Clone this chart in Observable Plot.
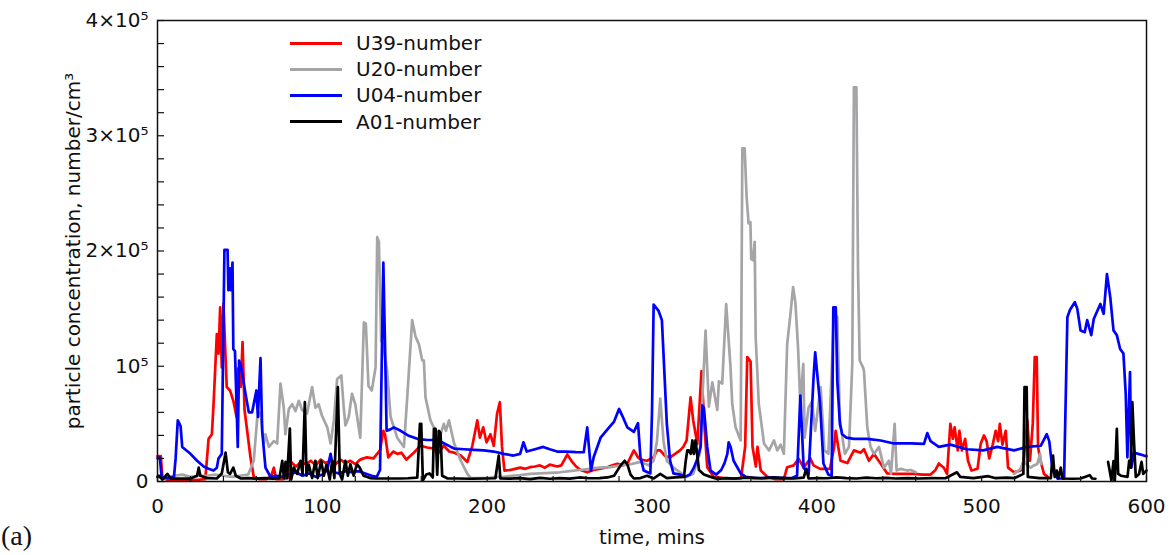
<!DOCTYPE html>
<html><head><meta charset="utf-8">
<script src="https://cdn.jsdelivr.net/npm/d3@7"></script>
<script src="https://cdn.jsdelivr.net/npm/@observablehq/plot@0.6"></script>
<style>
body{margin:0;background:#fff;}
#wrap{position:relative;width:1173px;height:555px;font-family:"DejaVu Sans",sans-serif;}
.legend{position:absolute;left:290px;top:30px;}
.row{display:flex;align-items:center;height:26.2px;font-size:20px;color:#111;}
.sw{width:52px;height:3px;margin-right:14px;}
#tag{position:absolute;left:1px;top:520px;font-family:"Liberation Serif",serif;font-size:28px;color:#111;}
</style></head><body><div id="wrap"></div>
<script>
// time (mins), concentration (thousand number/cm^3)
const seriesNames = ["U39-number", "U20-number", "U04-number", "A01-number"];
const seriesColors = ["#ff0000", "#a5a5a8", "#0000ff", "#000000"];

const u39 = [[0,22],[2,22],[3,3],[6,1.5],[10,1],[15,1.5],[20,1],[25,1.5],[29,2],[31,37],[33,41],[34,67],[36,128],[37,111],[38,151],[39,99],[40,154],[42,82],[44,79],[46,70],[48,56],[48.7,98],[50.5,82],[51.6,121],[52.8,62],[54.4,44],[56.4,21],[58.4,4],[62,2],[66,2],[69,5],[70.6,12],[72,2],[76,2],[79,3],[81,17],[84,13],[87,17],[90,15],[93,18],[96,14],[99,19],[102,16],[105,18],[108,15],[111,19],[114,16],[117,18],[120,15],[123,19],[127,21],[131,20],[135,27],[137,44],[138,41],[140,21],[143,26],[145.5,24],[148,25],[151,19],[155.5,25],[159.6,31],[163.6,29.5],[167.6,28.6],[170,24],[173.7,31],[177,26],[180,25],[184,22.5],[188,17],[191,31],[194,53],[195.6,38],[197.6,47],[199.6,34],[202,41],[204,31],[206,58.7],[207.7,68.8],[209,30],[210.5,9.5],[214,10],[217,11],[220,12],[223,11],[226,12.4],[229,13],[232,14],[235,12],[238,14.6],[242.5,13],[245,14],[248.6,23.4],[251.6,17],[254,13],[256.7,10],[260.7,8],[264.6,10],[268,11],[273,12.4],[276,14],[279,15.3],[282,14],[285,15.3],[289,27],[291.5,21],[293,19],[297,18],[301,21],[303,27],[305,27],[308,22],[311,21],[314,24],[317,27],[319,30],[321,35.6],[323.4,73],[325,53],[327.5,32.7],[330,95.7],[332,44],[333.5,12.4],[337.5,4],[344,3],[350,2.5],[354,2.6],[356.5,30],[357.8,108],[359.8,104],[361,30],[363,13],[364,30],[366,9.5],[370,4],[375,2],[380,2],[382,12.4],[386,14],[389,19.7],[392,12],[396,20],[398,14],[402,11],[408,11],[410.5,30],[411.4,44],[413,30],[414.4,18],[418.5,16],[422.5,27],[426.6,25],[428.6,28],[431.6,18],[434.7,24],[436.5,20],[438.7,15.6],[442.7,7],[447,6.6],[451,6.6],[455,6.6],[459,6.6],[464,6],[469,6],[472,10],[474,15.6],[477,12],[479,6.6],[481,50],[482.5,37],[483.6,47],[485.5,27],[486.5,44],[488,27],[490,37],[491.7,18],[493.8,9.5],[497.5,11],[499.4,32.7],[501.4,40],[503,35],[504.6,20],[506.7,32],[508.5,44],[510,35],[511,50],[512.6,32],[514.6,44],[516,12],[519.6,8],[523.6,9.5],[525.6,18],[527.7,53],[529.3,18],[531,50],[532.2,108],[533.4,108],[534.2,30],[535.7,18],[537.8,6.6],[540,4]];

const u20 = [[0,4],[5,3],[10,5],[15,6],[20,4],[25,5],[30,5],[35,6],[40,5],[45,4],[50,5],[55,6],[58.4,18],[60.5,55],[62.5,60],[64.5,33],[65.5,41],[67.6,30],[70.6,35],[72.6,33],[74.6,85],[76.6,64],[77.6,41],[79.7,63],[81.7,67],[83.7,61],[85.7,70],[87.7,62],[90.7,59],[93.8,82],[95.8,64],[97.8,67],[99.8,57],[103,47],[105,33],[107,53],[109,89],[111.5,92],[113,64],[114,48.6],[116,56],[118,76],[120,67],[123,38],[125.2,138],[126.4,137],[128,83],[130,79],[132.3,99],[133.3,212],[134.3,208],[135.7,122],[137,119],[139.3,96],[141.4,56],[145.4,38],[149.5,30],[151.5,73],[154.5,140],[156.5,126],[158.6,119],[160.6,105],[161.6,105],[162.6,73],[165.6,53],[168.6,44],[171.7,41],[173.7,50],[175,44],[176.8,53],[180,32.7],[184,18],[188,6.6],[190,3],[195,3],[200,3],[205,4],[210,4],[215,5],[220,5.5],[226,6.6],[232,7],[238,7.5],[244,8],[250,9],[256,10],[262,11],[268,12],[275,12.5],[281,14],[287,15],[293,17],[298,14],[301,18],[303,35],[305,72],[307,35],[309,18],[313,12],[317,8],[321,4],[325,6.6],[329,24],[332.5,131],[334.5,65],[336.6,86],[339.6,62],[340.6,87],[342.6,85],[345,154],[347.5,102],[348.7,67],[350.7,47],[353.8,35.6],[354.8,289],[356.2,289],[357.4,247],[358.6,224],[359.7,225],[360.2,193],[361.3,192],[362.3,208],[362.9,125],[364.8,67],[368,32.7],[371,27],[374,35.6],[376,27],[378,32],[380,24],[382,119],[384,145.5],[385.6,168.6],[387,155],[388.6,116.5],[390,67],[391.8,102],[392.6,38],[395,64],[397,69],[399,44],[402.3,82],[404.6,27],[407,24],[410.4,145.5],[412.4,143],[414,53],[417,24],[419.5,30],[421.5,102],[422.5,342],[424,342],[425,183],[426,105],[428,99],[428.6,96],[430.6,47],[432.6,30],[434.7,24],[437.7,30],[440.7,12],[443.7,18],[445,6.6],[447.2,50],[448.4,9.5],[450.8,11],[454.8,9.5],[457,10],[460,8],[490,NaN],[519.6,6.6],[523.6,11],[525.6,18],[527.7,14],[529.7,12],[531.7,14],[533.7,15],[535.4,24],[536.2,15]];

const u04 = [[0,20],[1.4,21],[2.5,4],[6,3],[10,4],[11,20],[12.3,53],[14,48],[15,30],[20,24],[24,18],[28,13],[31,11],[34,9.5],[36,12],[37,20],[39,24],[40.6,201],[42.5,201],[43,166],[43.8,185],[44.5,166],[45.5,190],[46,115],[47,113],[48.7,30],[49.5,105],[50.8,99],[53.4,76],[55.4,60],[57.4,60],[60,79],[60.9,56],[62.5,107],[63.5,44],[65.5,12],[68.6,4],[72,5],[76,4],[80,6],[84,8],[88,5],[92,7],[96,4],[100,6],[103,10],[105,24],[107,8],[110,7],[114,9],[118,8],[122,9],[126,7],[130,5],[133,4],[135,10],[136,100],[137,190],[138,120],[139,44],[141,45],[143.4,47],[147.5,44],[152,40],[157.6,37],[163.6,36],[170,36],[174,33],[178,30],[180,28.6],[186,28],[192,27.5],[198,27],[204,26],[210,24],[216,22.5],[220,24],[222,34],[224,26],[229,28],[234,30],[238,28],[242.5,26],[248,26],[254,25.5],[258.6,25.4],[260.7,47],[263,9.5],[264.6,21],[268.8,38],[274,47],[277,52],[280,63],[282,57],[285,47],[289,43],[291.5,50.6],[293,21],[295,9.5],[299,7],[300,60],[301,153.6],[304,148],[306,140],[309,50],[311,18],[313,7],[317,6],[320,4],[323,6],[325.4,12],[327.6,20],[329.5,30],[330.5,66],[331.5,64],[333.5,30],[335.5,9.5],[339,6],[342,10],[344,16],[345.7,24],[346.5,34],[347.7,30],[349.5,18],[353.8,7],[357,4],[362,3],[368,3],[374,3.5],[380,3],[385,3],[388,5],[390,74.6],[392,12],[395,6],[398,90],[399,112],[402,67],[404,15.6],[407,6],[409,5],[410,151],[411.5,151],[412.4,87.6],[414,50],[415.4,41],[418,38],[422.5,37],[430.6,37],[438.7,35.6],[446.8,33],[451,33],[457,33],[465,32.7],[467,42],[469,35],[474,30],[481,32],[491,28],[501,27],[509.5,30],[519.6,27],[527.7,30],[535.8,31],[539.5,41],[541,35],[543,9.5],[546,2.6],[550,2.6],[552,142.6],[553.6,149],[556.5,155.6],[558,150],[560,131],[562.5,129.6],[564,140],[566.5,127],[568,141],[572,154],[574,145.5],[576,180],[578,160],[580,131],[582,127],[584,115],[586,111],[587.4,76],[588.4,21],[590,95],[590.8,12],[592.4,25],[595,24],[598.5,22.5],[600,22]];

const a01 = [[0,4],[0.8,5],[3,1.7],[6,6.6],[8,2.6],[12,2.5],[16,2.6],[20,2.5],[24,5],[25,12],[26,5],[30,3],[36,2.6],[39,7],[41.3,25],[42.7,8],[44,6.6],[46,12],[47.5,5],[50.6,2.6],[55,3],[60,2.5],[65,3],[70,2.5],[74,3],[75.7,18],[76.7,3],[77.7,17],[78.6,3],[80.3,46],[81.1,1.7],[82.7,12],[84.7,6.6],[86.8,18],[88,6.6],[89.4,69],[90.4,5],[91.8,14.5],[93.8,3],[95.8,18],[97.2,3],[99.3,18],[100.9,5],[102.5,14.5],[104.5,1.7],[106,18],[107.3,3],[109.4,82],[110.6,6.6],[112,1.7],[114,18],[115.5,5],[117,15],[119,5],[121,15],[122.7,12],[125,5],[129,3],[133,2.6],[137,2.6],[142,2.6],[147.5,2.6],[152,2.8],[157.6,3.4],[159.2,50],[160,50],[161,1],[163,6],[165,7],[167,3.5],[167.7,45.7],[168.7,45.7],[169.7,6],[170.7,44],[171.7,42],[172.7,5],[176,2.6],[182,2.6],[190,2.4],[198,2.6],[205,2.8],[207,22.5],[208,2.6],[214,2.5],[220,3],[226,2],[232,3.2],[238,2.4],[244,3],[250,2.5],[256,3.5],[262,2.8],[268,3],[273,3.5],[277,5],[281,14],[283.4,18],[285,15],[287,6],[289,2.6],[293,3],[297,5],[301,2.6],[305,6.6],[309,3],[314,3.5],[319.4,4],[320.4,17],[321.4,27],[322.4,27],[323.5,24],[324.5,35.6],[325.4,24],[326.4,35.6],[328.5,10],[331.5,6],[335.5,4],[339.6,2.3],[345,3],[350,2.6],[355,3.2],[360,3.4],[366,2.8],[374,3.4],[380,3],[386,2.6],[392,3.4],[393.6,11],[395,2.6],[400,3],[406,2.8],[412,3.6],[418,3],[424,2.6],[430,3.4],[436,2.8],[442,3.2],[448,2.6],[455,3],[462,2.6],[470,3],[478,2.8],[485,8],[487,4],[495,3],[504,4.6],[508,3],[515,3.4],[520,3],[525.3,6.6],[526,82],[527.3,82],[528,4],[535,3],[542,3],[542.3,9.5],[543.3,22.5],[544.3,4],[545.5,9.5],[546.5,2.6],[548,12],[549,2.6],[555,2.4],[560,2.6],[565.5,5.5],[567,2.6],[569,2.4],[572,NaN],[576.7,17],[578.7,1],[580,17.6],[580.8,1],[582,45.7],[582.8,6.6],[584.5,5],[588.5,4],[589.5,18],[590.5,12],[591.4,69],[592.4,35],[593.5,4],[595.5,6.6],[597,17],[598,6.6],[600,9.5]];

const xTicks = [0, 100, 200, 300, 400, 500, 600];
const xMinor = d3.range(0, 601, 20);
const yTicks = [0, 100, 200, 300, 400];
const yTickLabels = ["0", "10\u2075", "2\u00d710\u2075", "3\u00d710\u2075", "4\u00d710\u2075"];
const yMinor = d3.range(0, 401, 20);
const allSeries = [u39, u20, u04, a01];

const chart = Plot.plot({
  width: 1173, height: 555,
  marginLeft: 157, marginRight: 27, marginTop: 20, marginBottom: 74,
  style: {fontFamily: "DejaVu Sans", fontSize: "20px", color: "#111", background: "white"},
  x: {domain: [0, 600]},
  y: {domain: [0, 400]},
  marks: [
    ...allSeries.map((s, i) => Plot.line(s, {x: d => d[0], y: d => d[1], stroke: seriesColors[i], strokeWidth: 2.7})),
    Plot.axisX({ticks: xMinor, tickSize: 5, dy: -5, tickFormat: () => "", label: null, stroke: "#111", strokeWidth: 1.2}),
    Plot.axisX({ticks: xTicks, tickSize: 0, tickPadding: 17, tickFormat: d => String(d), label: "time, mins", labelAnchor: "center", labelArrow: "none", labelOffset: 62}),
    Plot.axisY({ticks: yMinor, tickSize: 7, dx: 7, tickFormat: () => "", label: null, stroke: "#111", strokeWidth: 1.2}),
    Plot.axisY({ticks: yTicks, tickSize: 0, tickPadding: 9, tickFormat: d => yTickLabels[yTicks.indexOf(d)], label: "particle concentration, number/cm\u00b3", labelAnchor: "center", labelArrow: "none", labelOffset: 92}),
    Plot.frame({stroke: "#111", strokeWidth: 1.5})
  ]
});
const wrap = document.getElementById("wrap");
wrap.appendChild(chart);
const leg = document.createElement("div");
leg.className = "legend";
seriesNames.forEach((n, i) => {
  const r = document.createElement("div"); r.className = "row";
  const sw = document.createElement("span"); sw.className = "sw"; sw.style.background = seriesColors[i];
  const t = document.createElement("span"); t.textContent = n;
  r.appendChild(sw); r.appendChild(t); leg.appendChild(r);
});
wrap.appendChild(leg);
const tag = document.createElement("div"); tag.id = "tag"; tag.textContent = "(a)";
wrap.appendChild(tag);
</script></body></html>
